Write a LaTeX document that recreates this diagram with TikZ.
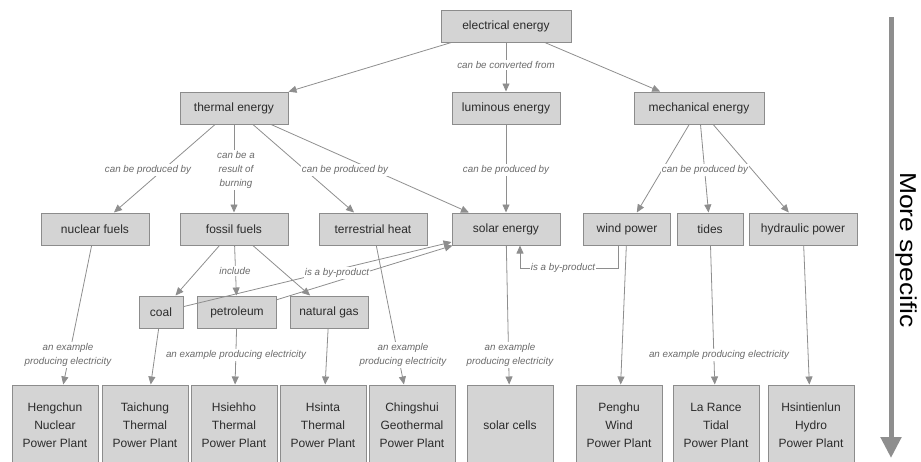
\documentclass[tikz,border=0pt]{standalone}
\usepackage{fontspec}
\setmainfont{Liberation Sans}
\usetikzlibrary{arrows.meta}

\definecolor{boxfill}{HTML}{D4D4D4}
\definecolor{boxline}{HTML}{8C8C8C}
\definecolor{linkgray}{HTML}{8E8E8E}
\definecolor{lblgray}{HTML}{6A6A6A}
\definecolor{txtgray}{HTML}{2B2B2B}

\begin{document}
\begin{tikzpicture}[x=1pt,y=-1pt,
    concept/.style={draw=boxline,fill=boxfill,line width=1pt,text=txtgray,
        font=\fontsize{12}{14}\selectfont,minimum height=32pt,inner sep=0pt},
    plant/.style={concept,minimum width=86pt,minimum height=80pt,align=center,
        font=\fontsize{12}{18}\selectfont},
    link/.style={draw=linkgray,line width=0.8pt,-{Triangle[length=8pt,width=7pt]}},
    linklabel/.style={fill=white,text=lblgray,inner sep=1pt,align=center,
        font=\fontsize{9.8}{14}\selectfont\itshape}]

\useasboundingbox (0,0) rectangle (921,461);

\pgfmathsetmacro\rowa{26}
\pgfmathsetmacro\rowb{108}
\pgfmathsetmacro\rowc{229}
\pgfmathsetmacro\rowd{312}
\pgfmathsetmacro\rowe{425}

\node[concept,minimum width=130pt] (electrical) at (506,\rowa) {electrical energy};

\node[concept,minimum width=108pt] (thermal) at (234,\rowb) {thermal energy};
\node[concept,minimum width=108pt] (luminous) at (506,\rowb) {luminous energy};
\node[concept,minimum width=130pt] (mechanical) at (699,\rowb) {mechanical energy};

\node[concept,minimum width=108pt] (nuclear) at (95,\rowc) {nuclear fuels};
\node[concept,minimum width=108pt] (fossil) at (234,\rowc) {fossil fuels};
\node[concept,minimum width=108pt] (terrestrial) at (373,\rowc) {terrestrial heat};
\node[concept,minimum width=108pt] (solar) at (506,\rowc) {solar energy};
\node[concept,minimum width=87pt] (wind) at (627,\rowc) {wind power};
\node[concept,minimum width=66pt] (tides) at (710,\rowc) {tides};
\node[concept,minimum width=108pt] (hydraulic) at (803,\rowc) {hydraulic power};

\node[concept,minimum width=44pt] (coal) at (161,\rowd) {coal};
\node[concept,minimum width=79pt] (petroleum) at (237,\rowd) {petroleum};
\node[concept,minimum width=78pt] (natgas) at (329,\rowd) {natural gas};

\foreach \name/\x/\txt in {hengchun/55/{Hengchun\\Nuclear\\Power Plant},
        taichung/145/{Taichung\\Thermal\\Power Plant},
        hsiehho/234/{Hsiehho\\Thermal\\Power Plant},
        hsinta/323/{Hsinta\\Thermal\\Power Plant},
        chingshui/412/{Chingshui\\Geothermal\\Power Plant},
        solarcells/510/{solar cells},
        penghu/619/{Penghu\\Wind\\Power Plant},
        larance/716/{La Rance\\Tidal\\Power Plant},
        hsintienlun/811/{Hsintienlun\\Hydro\\Power Plant}}
    \node[plant] (\name) at (\x,\rowe) {\txt};

% links
\foreach \src/\dst in {electrical/thermal, electrical/luminous, electrical/mechanical,
        thermal/nuclear, thermal/fossil, thermal/terrestrial, thermal/solar,
        luminous/solar, mechanical/wind, mechanical/tides, mechanical/hydraulic,
        fossil/coal, fossil/petroleum, fossil/natgas, coal/solar, petroleum/solar,
        nuclear/hengchun, coal/taichung, petroleum/hsiehho, natgas/hsinta,
        terrestrial/chingshui, solar/solarcells, wind/penghu, tides/larance,
        hydraulic/hsintienlun}
    \draw[link] (\src) -- (\dst);

\draw[link] ([xshift=-9pt]wind.south) -- ++(0,23) -| ([xshift=14pt]solar.south);

% link labels
\node[linklabel] (convfrom) at (506,65) {can be converted from};
\node[linklabel] (prodnuc) at (148,170) {can be produced by};
\node[linklabel] (burning) at (236,170) {can be a\\result of\\burning};
\node[linklabel] (prodheat) at (345,170) {can be produced by};
\node[linklabel] (prodsolar) at (506,170) {can be produced by};
\node[linklabel] (prodmech) at (705,170) {can be produced by};
\node[linklabel] (include) at (235,271) {include};
\node[linklabel] (byfossil) at (337,273) {is a by-product};
\node[linklabel] (bywind) at (563,268) {is a by-product};
\node[linklabel] (exnuc) at (68,355) {an example\\producing electricity};
\node[linklabel] (exfossil) at (236,355) {an example producing electricity};
\node[linklabel] (exheat) at (403,355) {an example\\producing electricity};
\node[linklabel] (exsolar) at (510,355) {an example\\producing electricity};
\node[linklabel] (exmech) at (719,355) {an example producing electricity};

% scale arrow
\coordinate (general) at (891,17);
\coordinate (specific) at (891,458);
\draw[draw=linkgray,line width=5pt,-{Triangle[length=21pt,width=20pt]}] (general) -- (specific);
\node[rotate=-90,inner sep=0pt,text=black,font=\fontsize{23}{27}\selectfont] (morespec) at (906.5,250) {\scalebox{1.15}[1]{More specific}};

\end{tikzpicture}
\end{document}
